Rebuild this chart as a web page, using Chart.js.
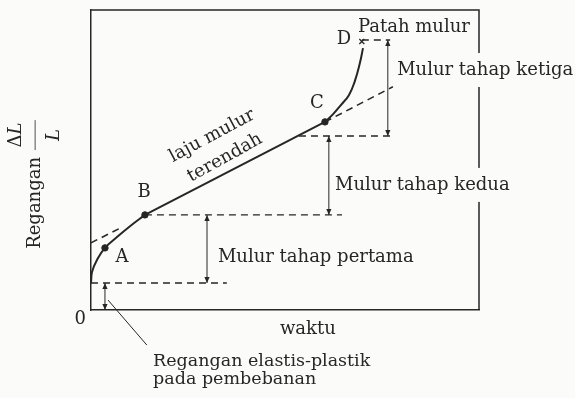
<!DOCTYPE html>
<html>
<head>
<meta charset="utf-8">
<script src="https://cdn.jsdelivr.net/npm/chart.js@4/dist/chart.umd.min.js"></script>
<style>
  html, body { margin: 0; padding: 0; background: #fbfbf9; }
  #wrap { width: 575px; height: 398px; position: relative; }
</style>
</head>
<body>
<div id="wrap"><canvas id="creep"></canvas></div>
<script>
// Creep curve: strain (ΔL/L) against time, with the three creep stages.
const primaryTime    = [0, 0.26, 1.55, 3.6, 6.7, 10.05, 13.9];
const primaryStrain  = [9, 12.7, 16.7, 20.7, 24.3, 27.9, 31.7];
const steadyTime     = [13.9, 60.3];
const steadyStrain   = [31.7, 62.7];
const tertiaryTime   = [60.3, 62.4, 64.4, 66.5, 68.0, 69.3, 70.1];
const tertiaryStrain = [62.7, 65.3, 68.3, 71.7, 76.3, 82.3, 87.3];
const fractureTime = 69.8, fractureStrain = 89.5;

// dashed extension of the minimum creep-rate line
const extLeftTime  = [0, 8],       extLeftStrain  = [22.4, 27.6];
const extRightTime = [60.3, 77.8], extRightStrain = [62.7, 74.4];

// strain levels bounding each stage
const elasticLevel = 9, primaryEnd = 31.7, secondaryEnd = 58, fractureLevel = 90;
const guideFrom  = [0, 13.9, 53.6, 69.8];
const guideTo    = [35, 64.7, 77.1, 77.1];
const guideLevel = [elasticLevel, primaryEnd, secondaryEnd, fractureLevel];

// vertical dimension arrows for each stage
const arrowTime = [3.6, 29.9, 61.3, 76.5];
const arrowLow  = [0, elasticLevel, primaryEnd, secondaryEnd];
const arrowHigh = [elasticLevel, primaryEnd, secondaryEnd, fractureLevel];

const INK = '#262626';
const PAPER = '#fbfbf9';
const SERIF = '"DejaVu Serif", "Liberation Serif", serif';

const pts = (xs, ys) => xs.map((x, i) => ({ x, y: ys[i] }));

const datasets = [];
datasets.push({ label: 'primer', data: pts(primaryTime, primaryStrain),
  borderColor: INK, borderWidth: 2, pointRadius: 0, tension: 0.45 });
datasets.push({ label: 'sekunder', data: pts(steadyTime, steadyStrain),
  borderColor: INK, borderWidth: 2, pointRadius: 0, tension: 0 });
datasets.push({ label: 'tersier', data: pts(tertiaryTime, tertiaryStrain),
  borderColor: INK, borderWidth: 2, pointRadius: 0, tension: 0.45 });
datasets.push({ label: 'ext1', data: pts(extLeftTime, extLeftStrain),
  borderColor: INK, borderWidth: 1.6, borderDash: [7, 5], pointRadius: 0 });
datasets.push({ label: 'ext2', data: pts(extRightTime, extRightStrain),
  borderColor: INK, borderWidth: 1.6, borderDash: [7, 5], pointRadius: 0 });
guideLevel.forEach((lv, i) => datasets.push({ label: 'guide' + i,
  data: [{ x: guideFrom[i], y: lv }, { x: guideTo[i], y: lv }],
  borderColor: INK, borderWidth: 1.3, borderDash: [7, 5], pointRadius: 0 }));
arrowTime.forEach((t, i) => datasets.push({ label: 'arrow' + i, arrow: true,
  data: [{ x: t, y: arrowLow[i] }, { x: t, y: arrowHigh[i] }],
  borderColor: INK, borderWidth: 1, pointRadius: 0 }));
// marked points A, B, C and the fracture point D
datasets.push({ label: 'titik', type: 'scatter',
  data: [{ x: primaryTime[3], y: primaryStrain[3] },
         { x: primaryTime[6], y: primaryStrain[6] },
         { x: steadyTime[1], y: steadyStrain[1] }],
  backgroundColor: INK, borderColor: INK, pointRadius: 3.2, pointStyle: 'circle' });
datasets.push({ label: 'patah', type: 'scatter',
  data: [{ x: fractureTime, y: fractureStrain }],
  borderColor: INK, borderWidth: 1.3, pointRadius: 3.5, pointStyle: 'crossRot' });

// text placed in data units
const labels = [
  { t: 'Patah mulur', x: 68.8, y: 94.3, align: 'left' },
  { t: 'D', x: 65.2, y: 90.3 },
  { t: 'Mulur tahap ketiga', x: 78.9, y: 80, align: 'left', box: true },
  { t: 'C', x: 58.2, y: 69 },
  { t: 'Mulur tahap kedua', x: 62.9, y: 41.7, align: 'left', box: true },
  { t: 'B', x: 13.7, y: 39.3 },
  { t: 'A', x: 8, y: 17.7 },
  { t: 'Mulur tahap pertama', x: 32.7, y: 17.7, align: 'left' },
  { t: 'laju mulur', x: 31.2, y: 58, rot: -28 },
  { t: 'terendah', x: 34.5, y: 50.7, rot: -29 },
  { t: '0', x: -2.8, y: -3 },
  { t: 'waktu', x: 55.9, y: -6.3 },
  { t: 'Regangan elastis-plastik', x: 16, y: -17.3, align: 'left', size: 17.5 },
  { t: 'pada pembebanan', x: 16, y: -23.3, align: 'left', size: 17.5 },
];
// leader from the elastic-plastic note to its arrow
const leaderTime = [14.4, 4.4], leaderStrain = [-11.7, 3.3];

const decor = {
  id: 'decor',
  beforeDraw(chart) {
    const { ctx, width, height } = chart;
    ctx.save();
    ctx.fillStyle = PAPER;
    ctx.fillRect(0, 0, width, height);
    ctx.restore();
  },
  beforeDatasetsDraw(chart) {
    const { ctx, chartArea: a } = chart;
    ctx.save();
    ctx.strokeStyle = INK;
    ctx.lineWidth = 1.5;
    ctx.beginPath();
    ctx.moveTo(a.left, a.top);
    ctx.lineTo(a.right, a.top);
    ctx.lineTo(a.right, a.bottom);
    ctx.stroke();
    ctx.restore();
  },
  afterDatasetsDraw(chart) {
    const { ctx } = chart;
    const xs = chart.scales.x, ys = chart.scales.y;
    const px = v => xs.getPixelForValue(v), py = v => ys.getPixelForValue(v);
    ctx.save();
    // arrowheads on the dimension lines
    ctx.fillStyle = INK;
    chart.data.datasets.forEach((ds, di) => {
      if (!ds.arrow) return;
      const els = chart.getDatasetMeta(di).data;
      const lo = els[0], hi = els[1];
      const head = (x, y, dir) => {
        ctx.beginPath();
        ctx.moveTo(x, y);
        ctx.lineTo(x - 2.6, y - dir * 6);
        ctx.lineTo(x + 2.6, y - dir * 6);
        ctx.closePath();
        ctx.fill();
      };
      head(hi.x, hi.y, -1);
      head(lo.x, lo.y, 1);
    });
    // leader line
    ctx.strokeStyle = INK;
    ctx.lineWidth = 1;
    ctx.beginPath();
    ctx.moveTo(px(leaderTime[0]), py(leaderStrain[0]));
    ctx.lineTo(px(leaderTime[1]), py(leaderStrain[1]));
    ctx.stroke();

    // labels
    ctx.textBaseline = 'middle';
    labels.forEach(l => {
      const size = l.size || 18;
      ctx.font = size + 'px ' + SERIF;
      ctx.textAlign = l.align || 'center';
      const x = px(l.x), y = py(l.y);
      if (l.box) {
        const w = ctx.measureText(l.t).width;
        ctx.fillStyle = PAPER;
        ctx.fillRect(x - 3, y - 17, w + 8, 34);
      }
      ctx.fillStyle = INK;
      if (l.rot) {
        ctx.save();
        ctx.translate(x, y);
        ctx.rotate(l.rot * Math.PI / 180);
        ctx.fillText(l.t, 0, 0);
        ctx.restore();
      } else {
        ctx.fillText(l.t, x, y);
      }
    });

    // vertical axis title: Regangan ΔL/L
    const tx = px(-14.4);
    ctx.save();
    ctx.translate(tx, py(35.7));
    ctx.rotate(-Math.PI / 2);
    ctx.font = '18px ' + SERIF;
    ctx.textAlign = 'center';
    ctx.fillText('Regangan', 0, 0);
    ctx.restore();

    ctx.save();
    ctx.translate(tx, py(58.3));
    ctx.rotate(-Math.PI / 2);
    ctx.textAlign = 'left';
    ctx.font = '18px ' + SERIF;
    const dW = ctx.measureText('Δ').width;
    ctx.font = 'italic 18px ' + SERIF;
    const lW = ctx.measureText('L').width;
    const start = -(dW + lW) / 2;
    ctx.font = '18px ' + SERIF;
    ctx.fillText('Δ', start, -19);
    ctx.font = 'italic 18px ' + SERIF;
    ctx.fillText('L', start + dW, -19);
    ctx.textAlign = 'center';
    ctx.fillText('L', 0, 19);
    ctx.strokeStyle = INK;
    ctx.lineWidth = 0.8;
    ctx.beginPath();
    ctx.moveTo(-15, 0);
    ctx.lineTo(15, 0);
    ctx.stroke();
    ctx.restore();

    ctx.restore();
  }
};

new Chart(document.getElementById('creep'), {
  type: 'line',
  data: { datasets },
  options: {
    responsive: true,
    maintainAspectRatio: false,
    animation: false,
    events: [],
    layout: { padding: { left: 91, right: 96, top: 10, bottom: 88 } },
    plugins: { legend: { display: false }, tooltip: { enabled: false } },
    scales: {
      x: { type: 'linear', min: 0, max: 100,
           grid: { display: false, drawTicks: false }, ticks: { display: false },
           border: { display: true, color: INK, width: 1.5 } },
      y: { type: 'linear', min: 0, max: 100,
           grid: { display: false, drawTicks: false }, ticks: { display: false },
           border: { display: true, color: INK, width: 1.5 } }
    }
  },
  plugins: [decor]
});
</script>
</body>
</html>
